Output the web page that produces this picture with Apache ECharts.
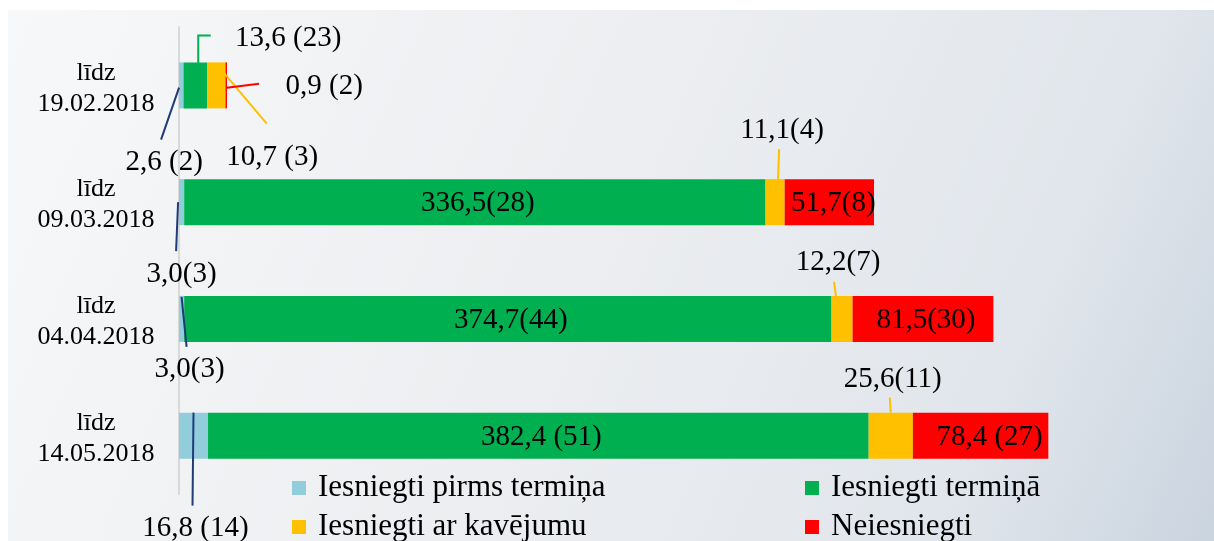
<!DOCTYPE html>
<html>
<head>
<meta charset="utf-8">
<script src="https://cdn.jsdelivr.net/npm/echarts@6/dist/echarts.min.js"></script>
<style>
html,body{margin:0;padding:0;background:#fff;}
#chart{width:1214px;height:541px;}
</style>
</head>
<body>
<div id="chart"></div>
<script>
// ---- data ----
const categories = ['līdz\n19.02.2018', 'līdz\n09.03.2018', 'līdz\n04.04.2018', 'līdz\n14.05.2018'];
const seriesNames = ['Iesniegti pirms termiņa', 'Iesniegti termiņā', 'Iesniegti ar kavējumu', 'Neiesniegti'];
const pirmsTermina = [2.6, 3.0, 3.0, 16.8];
const termina = [13.6, 336.5, 374.7, 382.4];
const arKavejumu = [10.7, 11.1, 12.2, 25.6];
const neiesniegti = [0.9, 51.7, 81.5, 78.4];
const pirmsTerminaSk = [2, 3, 3, 14];
const terminaSk = [23, 28, 44, 51];
const arKavejumuSk = [3, 4, 7, 11];
const neiesniegtiSk = [2, 8, 30, 27];

const values = [pirmsTermina, termina, arKavejumu, neiesniegti];
const counts = [pirmsTerminaSk, terminaSk, arKavejumuSk, neiesniegtiSk];

// ---- styles / layout ----
const colors = ['#92cddc', '#00b050', '#ffc000', '#ff0000'];
const lineColors = ['#1f3c78', '#00b050', '#ffc000', '#ff0000'];
const FONT = '"Liberation Serif", "Times New Roman", serif';
// label offset from segment centre (px) and leader line points relative to segment centre
const labelSpec = [
  [ {d:[-17,77.5], line:[[-2.2,2.3],[-20.2,54.3]], sep:' '},
    {d:[0,72], line:[[-3.5,0],[-5.5,49]], sep:''},
    {d:[8,51], line:[[0,-22],[5,28]], sep:''},
    {d:[2,93], line:[[0,-23],[-1,70]], sep:' '} ],
  [ {d:[93,-46.5], line:[[3,-22],[3,-50],[15.5,-50]], sep:' '},
    {d:[3,1.5], sep:''},
    {d:[3,1.5], sep:''},
    {d:[3,1.5], sep:' '} ],
  [ {d:[56,72], line:[[7.8,-12.3],[50.5,38.3]], sep:' '},
    {d:[7,-72], line:[[3,-23],[4,-53]], sep:''},
    {d:[-4,-56], line:[[-8,-37],[-6,-22]], sep:''},
    {d:[2,-56], line:[[-1,-38],[0,-23]], sep:''} ],
  [ {d:[98,1.5], line:[[0.5,2.3],[32.8,-1.7]], sep:' '},
    {d:[4,1.5], sep:''},
    {d:[3,1.5], sep:''},
    {d:[9,1.5], sep:' '} ]
];

const bgRect = {
  id: 'bg', type: 'rect', z: -100, silent: true,
  shape: {x: 8, y: 10, width: 1206, height: 531},
  style: {
    fill: new echarts.graphic.LinearGradient(0, 0, 1, 1, [
      {offset: 0, color: '#f7f8f9'},
      {offset: 0.5, color: '#ebedf0'},
      {offset: 0.8, color: '#e1e6ec'},
      {offset: 1, color: '#cad4df'}
    ])
  }
};

const chart = echarts.init(document.getElementById('chart'), null, {renderer: 'canvas'});

const series = values.map((vals, si) => ({
  name: seriesNames[si],
  type: 'bar',
  stack: 'total',
  barWidth: 46,
  data: vals,
  itemStyle: {color: colors[si]},
  label: {
    show: true,
    position: 'inside',
    color: '#000',
    fontFamily: FONT,
    fontSize: 29,
    textBorderWidth: 0,
    formatter: p => vals[p.dataIndex].toFixed(1).replace('.', ',') +
      labelSpec[si][p.dataIndex].sep + '(' + counts[si][p.dataIndex] + ')'
  },
  labelLayout: p => {
    const s = labelSpec[p.seriesIndex][p.dataIndex];
    return {
      x: p.rect.x + p.rect.width / 2 + s.d[0],
      y: p.rect.y + p.rect.height / 2 + s.d[1],
      align: 'center',
      verticalAlign: 'middle'
    };
  },
  emphasis: {disabled: true}
}));

const legendCommon = {
  orient: 'vertical', top: 472.5, height: 120, padding: 0, itemGap: 8,
  icon: 'rect', itemWidth: 14, itemHeight: 14,
  selectedMode: false,
  textStyle: {fontFamily: FONT, fontSize: 31, color: '#000', padding: [0, 0, 0, 7]}
};

chart.setOption({
  backgroundColor: '#ffffff',
  animation: false,
  grid: {left: 179, top: 27, width: 1002, height: 467},
  xAxis: {type: 'value', min: 0, max: 580, show: false},
  yAxis: {
    type: 'category', inverse: true, data: categories,
    axisLine: {show: true, lineStyle: {color: '#d9d9d9', width: 2}},
    axisTick: {show: false},
    splitLine: {show: false},
    axisLabel: {
      margin: 83, align: 'center', color: '#000',
      fontFamily: FONT, fontSize: 26, lineHeight: 31,
      formatter: v => '{g|}\n' + v.split('\n').map(s => '{t|' + s + '}').join('\n'),
      rich: {
        g: {height: 6, lineHeight: 6, fontSize: 1},
        t: {fontFamily: FONT, fontSize: 26, lineHeight: 31, color: '#000', align: 'center'}
      }
    }
  },
  legend: [
    Object.assign({left: 292, data: [seriesNames[0], seriesNames[2]]}, legendCommon),
    Object.assign({left: 805, data: [seriesNames[1], seriesNames[3]]}, legendCommon)
  ],
  graphic: {elements: [bgRect]},
  series: series
});

// leader lines, positioned through the chart's own scales
const lineEls = [];
values.forEach((vals, si) => {
  vals.forEach((v, ci) => {
    const spec = labelSpec[si][ci];
    if (!spec.line) return;
    let start = 0;
    for (let k = 0; k < si; k++) start += values[k][ci];
    const cx = chart.convertToPixel({xAxisIndex: 0}, start + v / 2);
    const cy = chart.convertToPixel({yAxisIndex: 0}, ci);
    lineEls.push({
      id: 'll' + si + '_' + ci, type: 'polyline', z: 100, silent: true,
      shape: {points: spec.line.map(pt => [cx + pt[0], cy + pt[1]])},
      style: {stroke: lineColors[si], lineWidth: 2, fill: null}
    });
  });
});
chart.setOption({graphic: {elements: [bgRect].concat(lineEls)}});
</script>
</body>
</html>
